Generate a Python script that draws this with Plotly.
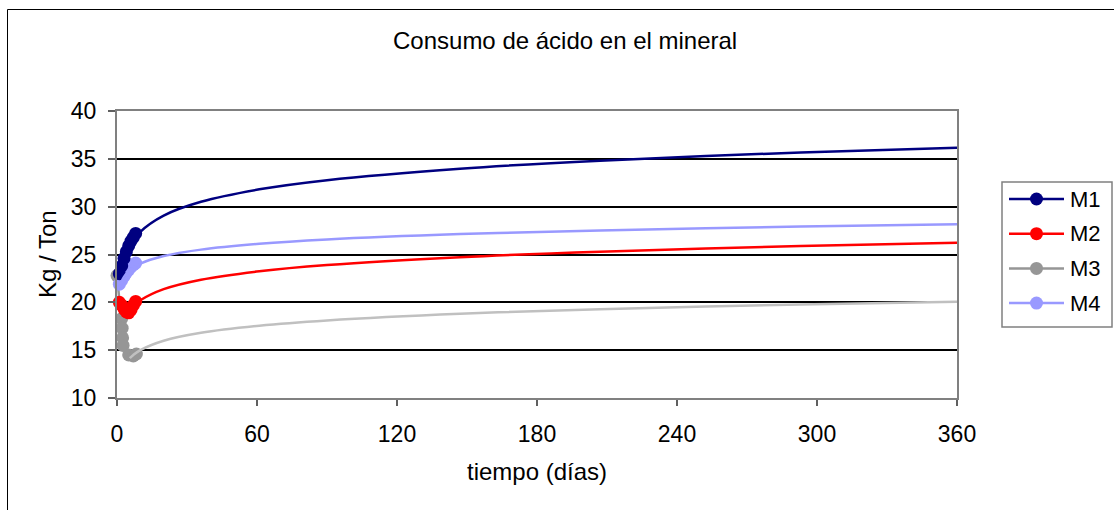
import plotly.graph_objects as go

# ---- measured acid consumption (kg/ton) over the first days ----
m1_days = [1, 2, 3, 4, 5, 6, 7, 8]
m1_vals = [23.0, 23.8, 24.6, 25.3, 25.9, 26.4, 26.8, 27.2]

m2_days = [1, 2, 3, 4, 5, 6, 7, 8]
m2_vals = [20.0, 19.7, 19.3, 19.0, 18.9, 19.2, 19.7, 20.1]

m3_days = [0, 2.0, 2.2, 2.4, 2.6, 5, 7, 8.3]
m3_vals = [22.8, 18.3, 17.3, 16.3, 15.5, 14.5, 14.4, 14.6]

m4_days = [1, 2, 3, 4, 5, 6, 7, 8]
m4_vals = [21.9, 22.3, 22.7, 23.1, 23.4, 23.7, 23.9, 24.1]

# ---- logarithmic trend projected to one year ----
t_days_m1 = [1.3, 2, 3, 5, 10, 20, 36, 61, 90, 147, 207, 293, 360]
t_vals_m1 = [22.35, 23.41, 24.41, 25.66, 27.37, 29.07, 30.51, 31.81, 32.77, 33.97, 34.81, 35.67, 36.17]

t_days_m2 = [7, 10, 20, 36, 61, 90, 147, 207, 293, 360]
t_vals_m2 = [19.63, 20.22, 21.38, 22.37, 23.25, 23.90, 24.72, 25.30, 25.88, 26.22]

t_days_m3 = [5.5, 7, 10, 20, 36, 61, 90, 147, 207, 293, 360]
t_vals_m3 = [14.16, 14.50, 15.00, 15.98, 16.81, 17.55, 18.10, 18.80, 19.28, 19.77, 20.06]

t_days_m4 = [1, 2, 3, 5, 10, 20, 36, 61, 90, 147, 207, 293, 360]
t_vals_m4 = [21.40, 22.20, 22.66, 23.25, 24.04, 24.84, 25.51, 26.12, 26.57, 27.13, 27.52, 27.92, 28.16]

series_names = ["M1", "M2", "M3", "M4"]
series_colors = ["#000080", "#FF0000", "#969696", "#9999FF"]
trend_colors = ["#000080", "#FF0000", "#C0C0C0", "#9999FF"]

x_ticks = [0, 60, 120, 180, 240, 300, 360]
y_ticks = [10, 15, 20, 25, 30, 35, 40]

FONT = "Liberation Sans, Arial, sans-serif"
W, H = 1114, 510
L, R, T, B = 117, 157, 111, 112
PW, PH = W - L - R, H - T - B


def px(x):
    return (x - L) / PW


def py(y):
    return (H - B - y) / PH


measured = {
    "M1": (m1_days, m1_vals),
    "M2": (m2_days, m2_vals),
    "M3": (m3_days, m3_vals),
    "M4": (m4_days, m4_vals),
}
trends = {
    "M1": (t_days_m1, t_vals_m1),
    "M2": (t_days_m2, t_vals_m2),
    "M3": (t_days_m3, t_vals_m3),
    "M4": (t_days_m4, t_vals_m4),
}
color_of = dict(zip(series_names, series_colors))
trend_color_of = dict(zip(series_names, trend_colors))

fig = go.Figure()

# measured points (stacking order: M3 lowest, M1 on top)
for name in ["M3", "M2", "M4", "M1"]:
    d, v = measured[name]
    fig.add_trace(go.Scatter(
        x=d, y=v, name=name, mode="lines+markers",
        line=dict(color=color_of[name], width=2.5),
        marker=dict(color=color_of[name], size=13),
        cliponaxis=False, showlegend=False,
    ))

# trend curves drawn above the points
for name in series_names:
    d, v = trends[name]
    fig.add_trace(go.Scatter(
        x=d, y=v, mode="lines", line=dict(color=trend_color_of[name], width=2.5, shape="spline"),
        showlegend=False, hoverinfo="skip",
    ))

shapes = []
annotations = []

# outer chart frame
shapes.append(dict(type="rect", xref="paper", yref="paper",
                   x0=px(7.5), x1=px(1130), y0=py(9.5), y1=py(530),
                   line=dict(color="black", width=1), fillcolor="rgba(0,0,0,0)", layer="below"))

# legend box
shapes.append(dict(type="rect", xref="paper", yref="paper",
                   x0=px(1002), x1=px(1112), y0=py(182), y1=py(327),
                   line=dict(color="#808080", width=1.5), fillcolor="white"))
for i, name in enumerate(series_names):
    cy = 199 + i * 34.7
    shapes.append(dict(type="line", xref="paper", yref="paper",
                       x0=px(1009), x1=px(1064), y0=py(cy), y1=py(cy),
                       line=dict(color=color_of[name], width=2.5)))
    shapes.append(dict(type="circle", xref="paper", yref="paper",
                       x0=px(1036.5 - 6.5), x1=px(1036.5 + 6.5), y0=py(cy - 6.5), y1=py(cy + 6.5),
                       line=dict(color=color_of[name], width=0), fillcolor=color_of[name]))
    annotations.append(dict(text=name, xref="paper", yref="paper", x=px(1068), y=py(cy),
                            xanchor="left", yanchor="middle", showarrow=False,
                            font=dict(family=FONT, size=22, color="black")))

# titles
annotations.append(dict(text="Consumo de ácido en el mineral", xref="paper", yref="paper",
                        x=px(565), y=py(40), xanchor="center", yanchor="middle", showarrow=False,
                        font=dict(family=FONT, size=24, color="black")))
annotations.append(dict(text="tiempo (días)", xref="paper", yref="paper",
                        x=px(537), y=py(471), xanchor="center", yanchor="middle", showarrow=False,
                        font=dict(family=FONT, size=24, color="black")))
annotations.append(dict(text="Kg / Ton", xref="paper", yref="paper", textangle=-90,
                        x=px(47), y=py(254), xanchor="center", yanchor="middle", showarrow=False,
                        font=dict(family=FONT, size=24, color="black")))

fig.update_layout(
    width=W, height=H,
    margin=dict(l=L, r=R, t=T, b=B, pad=0),
    paper_bgcolor="white", plot_bgcolor="white",
    font=dict(family=FONT, size=23, color="black"),
    shapes=shapes, annotations=annotations,
    showlegend=False,
)
fig.update_xaxes(
    range=[0, 360], tickvals=x_ticks, ticktext=[str(t) for t in x_ticks],
    showgrid=False, zeroline=False,
    showline=True, mirror=True, linecolor="#808080", linewidth=2,
    ticks="outside", ticklen=6, tickwidth=1.5, tickcolor="#606060",
    ticklabelstandoff=8,
)
fig.update_yaxes(
    range=[10, 40], tickvals=y_ticks, ticktext=[str(t) for t in y_ticks],
    showgrid=True, gridcolor="black", gridwidth=2, zeroline=False,
    showline=True, mirror=True, linecolor="#808080", linewidth=2,
    ticks="outside", ticklen=7, tickwidth=1.5, tickcolor="#606060",
    ticklabelstandoff=7,
)

fig.write_html("out.html")
